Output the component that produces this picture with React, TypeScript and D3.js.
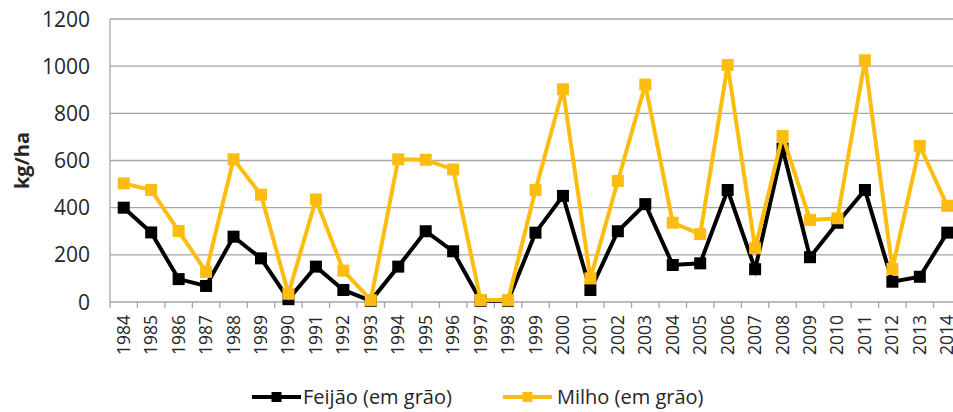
import React from 'react';
import * as d3 from 'd3';

// canvas
const width = 953;
const height = 412;

// plot area (the right edge runs past the canvas, as in the reference)
const plotLeft = 110;
const plotRight = 961;
const plotTop = 19;
const plotBottom = 302;

// data
const years = [
  '1984', '1985', '1986', '1987', '1988', '1989', '1990', '1991', '1992', '1993',
  '1994', '1995', '1996', '1997', '1998', '1999', '2000', '2001', '2002', '2003',
  '2004', '2005', '2006', '2007', '2008', '2009', '2010', '2011', '2012', '2013', '2014',
];
const feijao = [
  400, 295, 97, 68, 277, 185, 12, 150, 51, 5,
  150, 300, 215, 5, 5, 294, 450, 51, 300, 415,
  157, 164, 475, 139, 650, 190, 336, 475, 86, 107, 294,
];
const milho = [
  503, 475, 301, 128, 605, 455, 35, 435, 133, 8,
  605, 603, 562, 8, 8, 475, 902, 100, 513, 922,
  336, 288, 1005, 228, 704, 348, 355, 1025, 140, 662, 408,
];
const yTicks = [0, 200, 400, 600, 800, 1000, 1200];

const seriesList = [
  { name: 'Feijão (em grão)', values: feijao, color: '#000000' },
  { name: 'Milho (em grão)', values: milho, color: '#FDBD10' },
];

const font = '"Open Sans", "Liberation Sans", sans-serif';
const gridColor = '#a6a6a6';
const textColor = '#262626';

// scales
const x = d3.scaleBand<string>().domain(years).range([plotLeft, plotRight]);
const y = d3.scaleLinear().domain([0, 1200]).range([plotBottom, plotTop]);

const cx = (i: number) => (x(years[i]) as number) + x.bandwidth() / 2;

const line = d3
  .line<number>()
  .x((_, i) => cx(i))
  .y((d) => y(d));

const markerSize = 12;

// legend layout
const legendItems = [
  { lineX: 252, textX: 303 },
  { lineX: 503, textX: 557 },
];
const legendY = 397;

const App = () => (
  <svg
    width={width}
    height={height}
    style={{ position: 'absolute', left: 0, top: 0, background: '#fff' }}
  >
    {/* gridlines */}
    {yTicks.map((t) => (
      <line key={t} x1={plotLeft} x2={plotRight} y1={y(t)} y2={y(t)} stroke={gridColor} strokeWidth={1.3} />
    ))}
    {/* y axis line */}
    <line x1={plotLeft} x2={plotLeft} y1={plotTop} y2={plotBottom} stroke={gridColor} strokeWidth={1.3} />
    {/* x tick marks */}
    {years.map((yr) => (
      <line
        key={yr}
        x1={x(yr)}
        x2={x(yr)}
        y1={plotBottom}
        y2={plotBottom + 6}
        stroke={gridColor}
        strokeWidth={1.3}
      />
    ))}
    {/* y tick labels */}
    {yTicks.map((t) => (
      <text
        key={t}
        x={90}
        y={y(t)}
        dy="0.36em"
        textAnchor="end"
        fontFamily={font}
        fontSize={21}
        fill={textColor}
      >
        {t}
      </text>
    ))}
    {/* y axis title */}
    <text
      transform={`translate(29,${(plotTop + plotBottom) / 2}) rotate(-90)`}
      textAnchor="middle"
      fontFamily={font}
      fontSize={20}
      fontWeight="bold"
      fill={textColor}
    >
      kg/ha
    </text>
    {/* x tick labels */}
    {years.map((yr, i) => (
      <text
        key={yr}
        transform={`translate(${cx(i) + 6},${plotBottom + 13}) rotate(-90)`}
        textAnchor="end"
        fontFamily={font}
        fontSize={17.5}
        fill={textColor}
      >
        {yr}
      </text>
    ))}
    {/* series */}
    {seriesList.map((s) => (
      <g key={s.name}>
        <path d={line(s.values) as string} fill="none" stroke={s.color} strokeWidth={4} strokeLinejoin="miter" />
        {s.values.map((v, i) => (
          <rect
            key={i}
            x={cx(i) - markerSize / 2}
            y={y(v) - markerSize / 2}
            width={markerSize}
            height={markerSize}
            fill={s.color}
          />
        ))}
      </g>
    ))}
    {/* legend */}
    {seriesList.map((s, i) => {
      const { lineX, textX } = legendItems[i];
      return (
        <g key={s.name}>
          <line x1={lineX} x2={lineX + 49} y1={legendY} y2={legendY} stroke={s.color} strokeWidth={4} />
          <rect x={lineX + 24.5 - 5} y={legendY - 5} width={10} height={10} fill={s.color} />
          <text x={textX} y={legendY} dy="0.35em" fontFamily={font} fontSize={20} fill={textColor}>
            {s.name}
          </text>
        </g>
      );
    })}
  </svg>
);

export default App;
